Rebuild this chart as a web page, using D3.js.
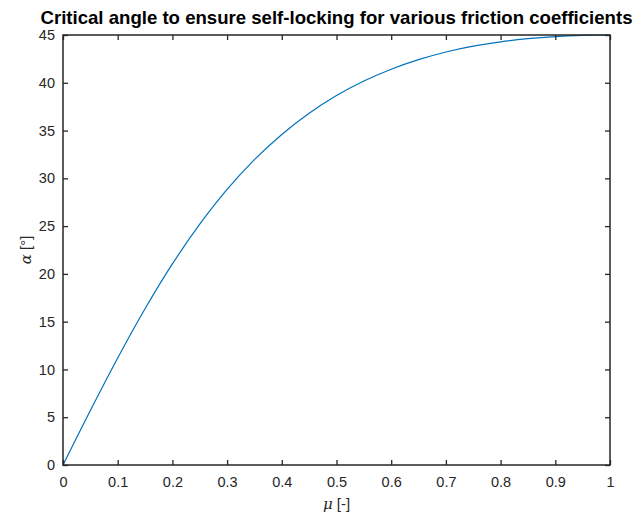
<!DOCTYPE html>
<html>
<head>
<meta charset="utf-8">
<script src="https://cdn.jsdelivr.net/npm/d3@7"></script>
<style>
  body { margin: 0; background: #fff; }
  svg { font-family: "Liberation Sans", Arial, sans-serif; }
</style>
</head>
<body>
<div class="chart"></div>
<script>
// friction coefficient mu and critical angle alpha (deg)
const mu = [0, 0.05, 0.1, 0.15, 0.2, 0.25, 0.3, 0.35, 0.4, 0.45, 0.5,
  0.55, 0.6, 0.65, 0.7, 0.75, 0.8, 0.85, 0.9, 0.95, 1];
const alpha = [0, 5.7, 11.2, 16.35, 21.04, 25.2, 28.84, 31.95, 34.59, 36.81, 38.66,
  40.18, 41.42, 42.42, 43.22, 43.83, 44.29, 44.62, 44.84, 44.96, 45];
const xTicks = [0, 0.1, 0.2, 0.3, 0.4, 0.5, 0.6, 0.7, 0.8, 0.9, 1];
const yTicks = [0, 5, 10, 15, 20, 25, 30, 35, 40, 45];

const data = mu.map((m, i) => ({ mu: m, alpha: alpha[i] }));

const W = 635, H = 521;
const margin = { top: 35, right: 25, bottom: 56, left: 63 };
const width = W - margin.left - margin.right;
const height = H - margin.top - margin.bottom;
const axisColor = "#262626";

const svg = d3
  .select(".chart")
  .append("svg")
  .attr("width", W)
  .attr("height", H);

const g = svg
  .append("g")
  .attr("transform", "translate(" + margin.left + "," + margin.top + ")");

const xScale = d3.scaleLinear().domain([0, 1]).range([0, width]);
const yScale = d3.scaleLinear().domain([0, 45]).range([height, 0]);

const line = d3
  .line()
  .x((d) => xScale(d.mu))
  .y((d) => yScale(d.alpha))
  .curve(d3.curveCatmullRom);

g.append("path")
  .datum(data)
  .attr("d", line)
  .attr("fill", "none")
  .attr("stroke", "#0072BD")
  .attr("stroke-width", 1.2);

function styleAxis(sel) {
  sel.select(".domain").remove();
  sel.selectAll("line").attr("stroke", axisColor).attr("stroke-width", 1.3);
  sel.selectAll("text").attr("fill", axisColor).style("font-size", "14.5px");
}

// bottom axis, ticks pointing inward
g.append("g")
  .attr("transform", "translate(0," + height + ")")
  .call(d3.axisBottom(xScale).tickValues(xTicks).tickSize(-5).tickPadding(12).tickFormat((d) => d))
  .call(styleAxis);

// top axis ticks only
g.append("g")
  .call(d3.axisTop(xScale).tickValues(xTicks).tickSize(-5).tickFormat(""))
  .call(styleAxis);

// left axis
g.append("g")
  .call(d3.axisLeft(yScale).tickValues(yTicks).tickSize(-5).tickPadding(8).tickFormat((d) => d))
  .call(styleAxis);

// right axis ticks only
g.append("g")
  .attr("transform", "translate(" + width + ",0)")
  .call(d3.axisRight(yScale).tickValues(yTicks).tickSize(-5).tickFormat(""))
  .call(styleAxis);

// box
g.append("rect")
  .attr("width", width)
  .attr("height", height)
  .attr("fill", "none")
  .attr("stroke", axisColor)
  .attr("stroke-width", 1.5);

// title
svg.append("text")
  .attr("x", margin.left + width / 2)
  .attr("y", 24)
  .attr("text-anchor", "middle")
  .attr("fill", "#000")
  .style("font-size", "18.6px")
  .style("font-weight", "bold")
  .text("Critical angle to ensure self-locking for various friction coefficients");

// x label
const xl = svg.append("text")
  .attr("x", margin.left + width / 2)
  .attr("y", 509)
  .attr("text-anchor", "middle")
  .attr("fill", axisColor)
  .style("font-size", "15px");
xl.append("tspan").style("font-style", "italic").style("font-family", "'DejaVu Serif', serif").text("μ");
xl.append("tspan").text(" [-]");

// y label
const yl = svg.append("text")
  .attr("transform", "translate(31," + (margin.top + height / 2) + ") rotate(-90)")
  .attr("text-anchor", "middle")
  .attr("fill", axisColor)
  .style("font-size", "15px");
yl.append("tspan").style("font-style", "italic").style("font-family", "'DejaVu Serif', serif").text("α");
yl.append("tspan").text(" [°]");
</script>
</body>
</html>
